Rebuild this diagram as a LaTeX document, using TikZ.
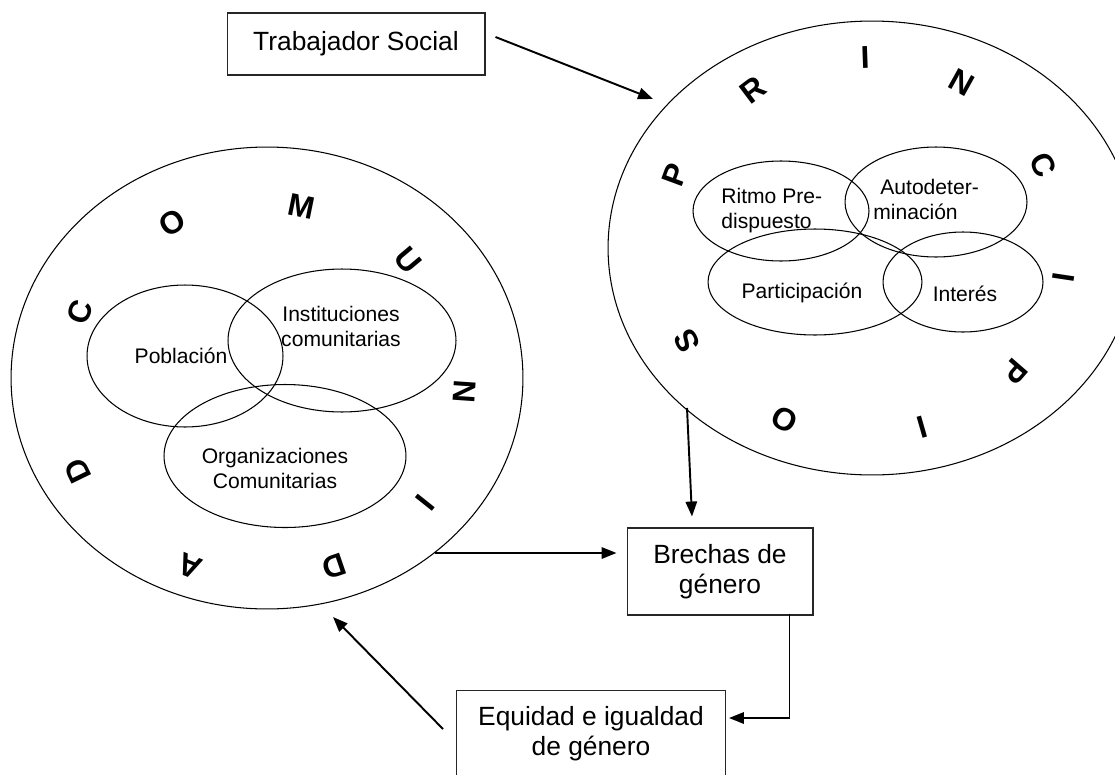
\documentclass[tikz,border=0pt]{standalone}
\usepackage{fontspec}
\setmainfont{Liberation Sans}
\usetikzlibrary{arrows.meta,shapes.geometric,calc}
\begin{document}
\begin{tikzpicture}[x=0.02cm,y=-0.02cm,
  circ/.style={draw, ellipse, line width=0.6pt, inner sep=0pt},
  box/.style={draw=black!85, line width=0.6pt, inner sep=0pt, align=center, font=\fontsize{15}{17}\selectfont},
  lbl/.style={font=\fontsize{12}{14.2}\selectfont, inner sep=0pt},
  ltr/.style={font=\bfseries\fontsize{18}{18}\selectfont, inner sep=0pt},
  arr/.style={line width=1.1pt, -{Triangle[length=8.5pt,width=6.5pt]}}]
\useasboundingbox (0,0) rectangle (1115,774);
\clip (0,0) rectangle (1115,774);

% ---------- COMUNIDAD ----------
\node[circ, minimum width=10.24cm, minimum height=9.24cm] (com) at (267,378) {};
\node[circ, minimum width=3.92cm, minimum height=2.84cm] (pob) at (185,356) {};
\node[circ, minimum width=4.56cm, minimum height=2.86cm] (ins) at (342,340.5) {};
\node[circ, minimum width=4.84cm, minimum height=2.86cm] (org) at (285,456) {};
\node[lbl] (tpob) at (181,356) {Población};
\node[lbl, align=center] (tins) at (341,326) {Instituciones\\comunitarias};
\node[lbl, align=center] (torg) at (275,468) {Organizaciones\\Comunitarias};

\node[ltr, rotate=70.6] (c1) at (80,312) {C};
\node[ltr, rotate=31.5] (c2) at (172,223) {O};
\node[ltr, rotate=-11.5] (c3) at (302,206) {M};
\node[ltr, rotate=-50] (c4) at (408,260) {U};
\node[ltr, rotate=-94] (c5) at (465,392) {N};
\node[ltr, rotate=-128.6] (c6) at (425,503) {I};
\node[ltr, rotate=-161] (c7) at (334,566) {D};
\node[ltr, rotate=158] (c8) at (190,566) {A};
\node[ltr, rotate=116] (c9) at (78,471) {D};

% ---------- PRINCIPIOS ----------
\node[circ, minimum width=10.56cm, minimum height=9.08cm] (pri) at (872,248) {};
\node[circ, minimum width=3.52cm, minimum height=2.0cm] (rit) at (781,211) {};
\node[circ, minimum width=3.64cm, minimum height=2.2cm] (aut) at (936,202) {};
\node[circ, minimum width=4.28cm, minimum height=2.12cm] (par) at (815,282) {};
\node[circ, minimum width=3.2cm, minimum height=2.0cm] (int) at (963,282) {};
\node[lbl, align=left, anchor=west] (trit) at (721,210.5) {Ritmo Pre-\\dispuesto};
\node[lbl, align=left, anchor=west] (taut) at (873,199.5) {\hspace*{0.14cm}Autodeter-\\minación};
\node[lbl] (tpar) at (802,293) {Participación};
\node[lbl] (tint) at (965,294) {Interés};

\node[ltr, rotate=69.7] (p1) at (675,175) {P};
\node[ltr, rotate=37] (p2) at (753,90) {R};
\node[ltr, rotate=2] (p3) at (865,57) {I};
\node[ltr, rotate=-29] (p4) at (962,83) {N};
\node[ltr, rotate=-64] (p5) at (1043,165) {C};
\node[ltr, rotate=-98.6] (p6) at (1064,277) {I};
\node[ltr, rotate=-131] (p7) at (1015,372) {P};
\node[ltr, rotate=-164] (p8) at (922,427) {I};
\node[ltr, rotate=153] (p9) at (785,420) {O};
\node[ltr, rotate=117] (p10) at (687,341) {S};

% ---------- boxes ----------
\node[box, minimum width=5.16cm, minimum height=1.24cm] (ts) at (356,44) {Trabajador Social};
\node[box, minimum width=3.72cm, minimum height=1.74cm] (bg) at (720,571.5) {Brechas de\\género};
\node[box, anchor=north west, minimum width=5.38cm, minimum height=1.74cm] (eq) at (456,690) {Equidad e igualdad\\de género};

% ---------- connectors ----------
\coordinate (t1) at (653,99);
\coordinate (s2) at (687,408);
\coordinate (s3) at (435,553);
\coordinate (e5) at (333,617);

\draw[arr] ([shift={(10,-7)}]ts.east) -- (t1);
\draw[arr] (s2) -- ([shift={(-28,-11)}]bg.north);
\draw[arr] (s3) -- ($(bg.west |- s3)+(-10,0)$);
\draw[arr] ([shift={(-24,-2)}]bg.south east) |- ([shift={(3,28)}]eq.north east);
\draw[arr] ([shift={(-13,39)}]eq.north west) -- (e5);
\end{tikzpicture}
\end{document}
